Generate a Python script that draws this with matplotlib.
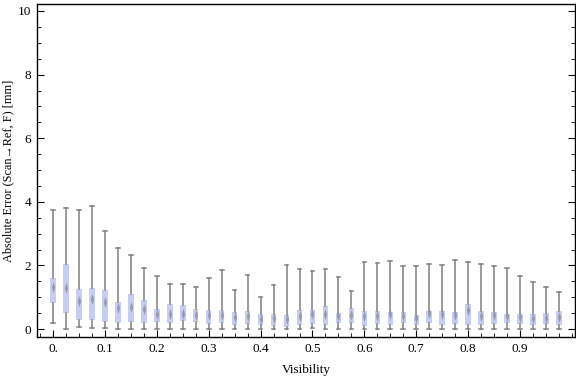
import matplotlib
matplotlib.use('Agg')

import numpy as np
import matplotlib.pyplot as plt
from matplotlib.ticker import MultipleLocator

# visibility bins (box positions)
visibility = [i * 0.025 for i in range(40)]

# box-whisker stats (mm)
whisLo = [0.18, 0.0, 0.05, 0.02, 0.02, 0.0, 0.0, 0.0, 0.0, 0.0,
          0.0, 0.0, 0.0, 0.0, 0.0, 0.0, 0.0, 0.0, 0.0, 0.0,
          0.03, 0.0, 0.0, 0.0, 0.0, 0.0, 0.0, 0.0, 0.0, 0.0,
          0.0, 0.0, 0.0, 0.0, 0.0, 0.0, 0.0, 0.0, 0.0, 0.0]
q1 = [0.83, 0.51, 0.29, 0.29, 0.23, 0.20, 0.23, 0.20, 0.23, 0.20,
      0.26, 0.23, 0.17, 0.19, 0.14, 0.17, 0.14, 0.10, 0.07, 0.14,
      0.17, 0.14, 0.20, 0.20, 0.10, 0.17, 0.14, 0.20, 0.14, 0.20,
      0.14, 0.17, 0.14, 0.14, 0.17, 0.20, 0.17, 0.14, 0.17, 0.14]
median = [1.32, 1.29, 0.87, 0.95, 0.84, 0.66, 0.68, 0.62, 0.48, 0.48,
          0.48, 0.45, 0.44, 0.45, 0.37, 0.40, 0.33, 0.35, 0.31, 0.41,
          0.47, 0.46, 0.40, 0.43, 0.42, 0.41, 0.47, 0.42, 0.34, 0.49,
          0.47, 0.43, 0.60, 0.41, 0.45, 0.41, 0.37, 0.36, 0.36, 0.38]
q3 = [1.61, 2.05, 1.25, 1.29, 1.23, 0.85, 1.10, 0.92, 0.63, 0.79,
      0.76, 0.63, 0.61, 0.60, 0.54, 0.57, 0.47, 0.47, 0.44, 0.60,
      0.60, 0.73, 0.51, 0.66, 0.57, 0.57, 0.54, 0.54, 0.44, 0.57,
      0.57, 0.54, 0.79, 0.57, 0.54, 0.47, 0.47, 0.47, 0.51, 0.57]
whisHi = [3.74, 3.81, 3.75, 3.87, 3.08, 2.55, 2.33, 1.92, 1.66, 1.41,
          1.41, 1.33, 1.61, 1.86, 1.22, 1.70, 1.01, 1.38, 2.01, 1.89,
          1.82, 1.89, 1.63, 1.19, 2.10, 2.07, 2.15, 1.98, 1.98, 2.04,
          2.01, 2.17, 2.10, 2.04, 1.98, 1.92, 1.66, 1.47, 1.32, 1.18]

plt.rcParams['font.family'] = ['Liberation Serif', 'DejaVu Serif']

fig = plt.figure(figsize=(5.76, 3.77), dpi=100)
ax = fig.add_axes([37 / 576, 40 / 377, 538 / 576, 333 / 377])

stats = []
for i in range(len(visibility)):
	stats.append({'whislo': whisLo[i], 'q1': q1[i], 'med': median[i],
		'q3': q3[i], 'whishi': whisHi[i], 'fliers': []})

ax.bxp(stats, positions=visibility, widths=0.0105, patch_artist=True,
	showfliers=False, capwidths=0.007,
	boxprops=dict(facecolor='#c5cdf3', edgecolor='none', linewidth=0),
	whiskerprops=dict(color='#808080', linewidth=1.1),
	capprops=dict(color='#808080', linewidth=1.1),
	medianprops=dict(linestyle='none'),
	manage_ticks=False, zorder=3)
# median marks: thin vertical diamond
diamond = [(0, 1), (0.3, 0), (0, -1), (-0.3, 0), (0, 1)]
ax.plot(visibility, median, linestyle='none', marker=diamond, markersize=8,
	color='#8e8e9c', markeredgewidth=0, alpha=0.8, zorder=4)

ax.set_xlim(-0.031, 1.006)
ax.set_ylim(-0.25, 10.22)
ax.xaxis.set_major_locator(MultipleLocator(0.1))
ax.xaxis.set_minor_locator(MultipleLocator(0.025))
ax.yaxis.set_major_locator(MultipleLocator(2))
ax.yaxis.set_minor_locator(MultipleLocator(0.5))
ax.set_xticks([0, 0.1, 0.2, 0.3, 0.4, 0.5, 0.6, 0.7, 0.8, 0.9])
ax.set_xticklabels(['0.', '0.1', '0.2', '0.3', '0.4', '0.5', '0.6', '0.7', '0.8', '0.9'])
ax.tick_params(which='both', direction='in', top=False, right=True, labelsize=9.5, pad=4)
ax.tick_params(which='major', length=5, width=0.8)
ax.tick_params(which='minor', length=3, width=0.6)
for s in ax.spines.values():
	s.set_linewidth(1.0)

ax.set_xlabel('Visibility', fontsize=9.5, labelpad=6.5)
ax.set_ylabel('Absolute Error (Scan\u2192Ref, F) [mm]', fontsize=8.8)
ax.yaxis.set_label_coords(-0.043, 0.5)

fig.savefig('out.png', dpi=100)
